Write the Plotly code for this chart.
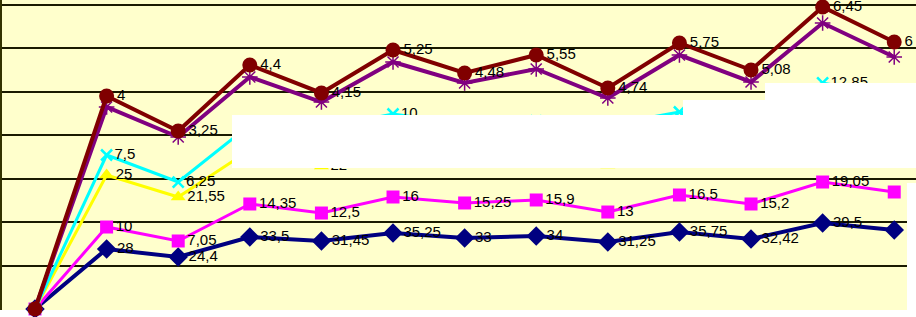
import plotly.graph_objects as go

# category index (13 points, first is the common origin)
categories = list(range(13))

# plotted positions (chart units; gridlines every 1 unit)
brown_y = [0, 4.904, 4.099, 5.618, 4.974, 5.964, 5.434, 5.849, 5.089, 6.125, 5.503, 6.954, 6.148]
purple_y = [0, 4.651, 3.960, 5.342, 4.766, 5.687, 5.204, 5.526, 4.858, 5.848, 5.227, 6.585, 5.802]
cyan_y = [0, 3.546, 2.924, 4.237, 4.168, 4.490, 4.260, 4.329, 4.237, 4.536, 4.398, 5.204, 4.904]
yellow_y = [0, 3.085, 2.579, 3.661, 3.293, 3.615, 3.523, 3.592, 3.316, 3.661, 3.569, 3.891, 3.776]
magenta_y = [0, 1.888, 1.566, 2.418, 2.210, 2.579, 2.441, 2.510, 2.233, 2.625, 2.418, 2.924, 2.694]
navy_y = [0, 1.382, 1.197, 1.658, 1.566, 1.750, 1.635, 1.681, 1.543, 1.773, 1.612, 1.980, 1.819]

# data labels shown next to the points
brown_lbl = ["", "4", "3,25", "4,4", "4,15", "5,25", "4,48", "5,55", "4,74", "5,75", "5,08", "6,45", "6"]
cyan_lbl = ["", "7,5", "6,25", "", "", "10", "", "", "", "", "", "12,85", ""]
yellow_lbl = ["", "25", "21,55", "", "22", "", "", "", "", "", "", "", ""]
magenta_lbl = ["", "10", "7,05", "14,35", "12,5", "16", "15,25", "15,9", "13", "16,5", "15,2", "19,05", ""]
navy_lbl = ["", "28", "24,4", "33,5", "31,45", "35,25", "33", "34", "31,25", "35,75", "32,42", "39,5", ""]

W, H = 916, 317
L, R, T, B = 2, 0, 0, 7
FONT = dict(family="Liberation Sans, Arial, sans-serif", size=15, color="#000000")

fig = go.Figure()

def add(y, lbl, color, symbol, size, lw, mline=None):
    marker = dict(symbol=symbol, size=size, color=color)
    if mline:
        marker["line"] = dict(color=color, width=mline)
    fig.add_trace(go.Scatter(
        x=categories, y=y, mode="lines+markers+text" if lbl else "lines+markers",
        text=lbl, textposition="middle right", textfont=FONT,
        line=dict(color=color, width=lw), marker=marker,
        cliponaxis=False, showlegend=False, hoverinfo="skip"))

add(navy_y, navy_lbl, "#000080", "diamond", 15, 4)
add(magenta_y, magenta_lbl, "#FF00FF", "square", 13, 3)
add(yellow_y, yellow_lbl, "#FFFF00", "triangle-up", 13, 3)
add(cyan_y, cyan_lbl, "#00FFFF", "x-thin-open", 11, 3, mline=2.5)
add(purple_y, None, "#800080", "asterisk-open", 13, 4, mline=1.5)
add(brown_y, brown_lbl, "#800000", "circle", 15, 4)

pw = W - L - R
ph = H - T - B
def px(x):
    return (x - L) / pw
def py(y):
    return (H - B - y) / ph

path = "M {} {} L {} {} L {} {} L {} {} L {} {} L {} {} L {} {} L {} {} Z".format(
    px(232), py(115), px(683), py(115), px(683), py(100), px(765), py(100),
    px(765), py(83), px(920), py(83), px(920), py(168), px(232), py(168))

fig.update_layout(
    width=W, height=H,
    margin=dict(l=L, r=R, t=T, b=B),
    paper_bgcolor="#FFFFFF",
    plot_bgcolor="#FFFFCC",
    xaxis=dict(range=[-0.461, 12.304], showgrid=False, zeroline=False,
               showticklabels=False, ticks="", showline=False),
    yaxis=dict(range=[-0.023, 7.115], tickvals=[1, 2, 3, 4, 5, 6, 7],
               showgrid=True, gridcolor="#1a1a00", gridwidth=1.5,
               zeroline=False, showticklabels=False, ticks="",
               showline=True, linecolor="#333300", linewidth=2),
    shapes=[
        dict(type="path", path=path, xref="paper", yref="paper",
             fillcolor="#FFFFFF", line=dict(width=0), layer="above"),
        dict(type="rect", xref="paper", yref="paper",
             x0=px(907), x1=px(920), y0=py(183), y1=py(320),
             fillcolor="#FFFFFF", line=dict(width=0), layer="above"),
    ],
)

fig.write_html("out.html", config={"displayModeBar": False},
               post_script="document.body.style.margin='0';document.body.style.overflow='hidden';")
